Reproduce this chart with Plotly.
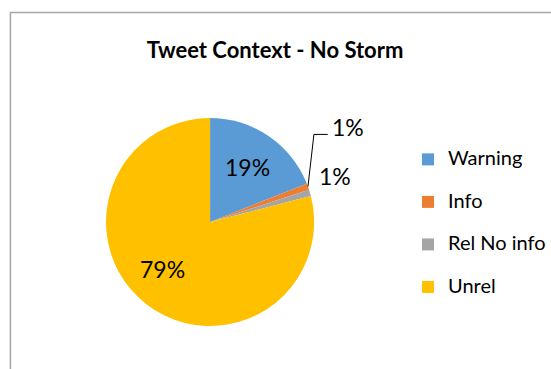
import math
import plotly.graph_objects as go

# Share of tweets by context category (no-storm period)
categories = ["Warning", "Info", "Rel No info", "Unrel"]
shares = [19, 1, 1, 79]
colors = ["#5B9BD5", "#ED7D31", "#A5A5A5", "#FFC000"]
# "Warning" keeps plotly's inside label; the others are placed by hand below
label_positions = ["inside", "none", "none", "none"]

W, H = 551, 369
FONT = "Lato, Carlito, Calibri, sans-serif"
LABEL_SIZE = 23

# pie geometry in pixels (domain is square, so radius = half the side)
CX, CY, R = 212, 222, 105


def px_to_paper(x, y):
    return x / W, 1 - y / H


fig = go.Figure(
    go.Pie(
        labels=categories,
        values=shares,
        sort=False,
        direction="clockwise",
        rotation=0,
        marker=dict(colors=colors, line=dict(width=0)),
        texttemplate="%{percent:.0%}",
        textposition=label_positions,
        insidetextorientation="horizontal",
        textfont=dict(family=FONT, size=LABEL_SIZE, color="#000000"),
        domain=dict(x=[(CX - R) / W, (CX + R) / W], y=[1 - (CY + R) / H, 1 - (CY - R) / H]),
        hoverinfo="label+percent",
    )
)

# middle direction of each slice, from the cumulative shares
total = sum(shares)
mid_dirs = []
acc = 0
for v in shares:
    theta = 2 * math.pi * (acc + v / 2) / total
    mid_dirs.append((math.sin(theta), -math.cos(theta)))
    acc += v


def along(i, frac):
    dx, dy = mid_dirs[i]
    return CX + frac * R * dx, CY + frac * R * dy


pct_text = [f"{round(100 * v / total)}%" for v in shares]
label_font = dict(family=FONT, size=LABEL_SIZE, color="#000000")

annotations = []
shapes = []

# "Info" callout with a bent leader line
ex, ey = along(1, 1.0)
elbow = (ex + 6, ey - 52)
end = (elbow[0] + 14, elbow[1])
path = "M {} {} L {} {} L {} {}".format(
    *px_to_paper(ex, ey), *px_to_paper(*elbow), *px_to_paper(*end)
)
shapes.append(
    dict(type="path", xref="paper", yref="paper", path=path,
         line=dict(color="#000000", width=1))
)
lx, ly = px_to_paper(end[0] + 2, end[1] - 7)
annotations.append(
    dict(x=lx, y=ly, xref="paper", yref="paper", text=pct_text[1],
         showarrow=False, xanchor="left", yanchor="middle", font=label_font)
)

# "Rel No info" label just outside its slice
gx, gy = along(2, 1.0)
lx, ly = px_to_paper(gx + 25, gy - 17)
annotations.append(
    dict(x=lx, y=ly, xref="paper", yref="paper", text=pct_text[2],
         showarrow=False, xanchor="center", yanchor="middle", font=label_font)
)

# "Unrel" label inside its slice, nudged toward the open side
ux, uy = along(3, 0.6)
lx, ly = px_to_paper(ux - 9, uy - 3)
annotations.append(
    dict(x=lx, y=ly, xref="paper", yref="paper", text=pct_text[3],
         showarrow=False, xanchor="center", yanchor="middle", font=label_font)
)

# chart-area frame
shapes.append(
    dict(type="rect", xref="paper", yref="paper",
         x0=10.5 / W, x1=1.05, y0=-0.05, y1=1 - 12.5 / H,
         line=dict(color="#A6A6A6", width=1.5),
         fillcolor="rgba(0,0,0,0)", layer="below")
)

fig.update_layout(
    width=W,
    height=H,
    margin=dict(l=0, r=0, t=0, b=0),
    paper_bgcolor="white",
    title=dict(
        text="<b>Tweet Context - No Storm</b>",
        x=275 / W,
        xanchor="center",
        y=1 - 50 / H,
        yanchor="middle",
        font=dict(family=FONT, size=22, color="#000000"),
    ),
    legend=dict(
        x=412 / W,
        y=1 - 143 / H,
        xanchor="left",
        yanchor="top",
        valign="top",
        # base size sets the row spacing; each entry carries a blank
        # second line so rows are spaced out and the swatch sits on line one
        font=dict(family=FONT, size=15.2, color="#000000"),
        itemclick=False,
    ),
    annotations=annotations,
    shapes=shapes,
)

fig.data[0].labels = [
    f'<span style="font-size:20px">{c}</span><br>&nbsp;' for c in categories
]
fig.data[0].hovertemplate = "%{percent}<extra></extra>"

fig.write_html("out.html")
